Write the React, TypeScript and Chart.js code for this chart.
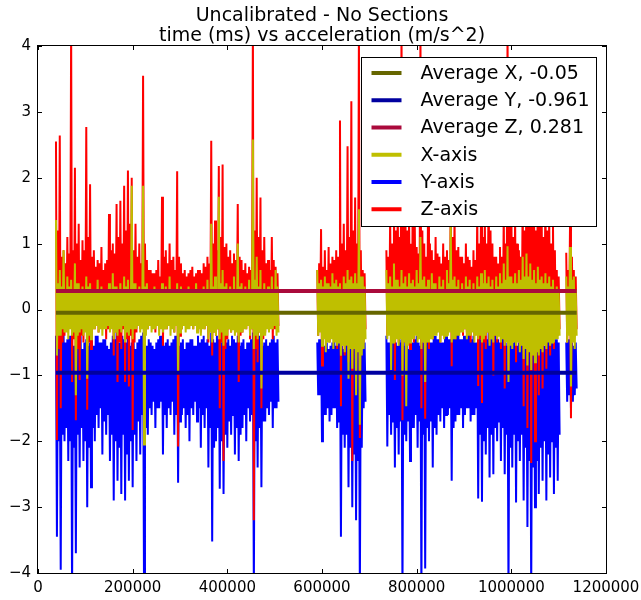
import { useEffect, useRef } from "react";
import { Chart, registerables } from "chart.js";

Chart.register(...registerables);

// Accelerometer log recorded in four bursts. For every 4000 ms interval the
// peak (high) and trough (low) reading of each axis is kept.
const sampleStepMs = 4000;
const segmentStartMs = [38000, 590000, 736000, 1116000];

const xAxisHigh = [
  [1.36,0.4, 0.6,0.35, 0.9,0.3, 0.5,0.35, 0.45,0.3, 0.7,0.4, 0.4,0.3, 0.35,0.25, 0.5,0.35, 0.4,0.3,
   0.3,0.25, 0.45,0.3, 0.35,0.3, 0.3,0.25, 0.4,0.3, 0.55,0.35, 0.35,0.3, 0.4,0.25, 0.5,0.35, 0.45,0.3,
   1.88,0.4, 0.4,0.3, 0.35,0.25, 1.88,0.35, 0.4,0.3, 0.3,0.25, 0.35,0.3, 0.3,0.25, 0.4,0.3, 0.35,0.25,
   0.5,0.3, 0.3,0.25, 0.4,0.3, 0.35,0.3, 0.3,0.25, 0.35,0.3, 0.3,0.25, 0.4,0.3, 0.3,0.25, 0.35,0.3,
   0.45,0.3, 1.3,0.35, 0.5,0.3, 1.71,0.4, 0.6,0.35, 0.4,0.3, 0.35,0.25, 0.5,0.3, 1.0,0.35, 0.4,0.3,
   0.35,0.25, 0.45,0.3, 2.58,0.45, 0.8,0.35, 0.6,0.3, 0.4,0.3, 0.35,0.25, 0.5,0.3, 0.6,0.35],
  [0.6,0.4, 0.45,0.35, 0.5,0.4, 0.4,0.35, 0.55,0.4, 0.45,0.35, 0.4,0.3, 0.5,0.4, 0.6,0.45, 0.5,0.4,
   0.55,0.4, 1.52,0.5, 0.5,0.35],
  [0.6,0.4, 0.5,0.35, 0.7,0.45, 0.45,0.35, 0.6,0.4, 0.5,0.35, 0.55,0.4, 0.45,0.35, 0.6,0.4, 1.1,0.45,
   0.5,0.35, 0.45,0.3, 0.55,0.4, 0.4,0.3, 0.5,0.35, 0.45,0.3, 0.6,0.4, 1.3,0.45, 0.5,0.35, 0.45,0.3,
   0.4,0.3, 0.5,0.35, 0.45,0.3, 0.4,0.3, 0.5,0.35, 0.55,0.4, 0.6,0.4, 0.5,0.35, 0.45,0.3, 0.5,0.35,
   0.55,0.4, 0.7,0.45, 0.96,0.5, 0.5,0.4, 0.55,0.4, 0.6,0.45, 0.8,0.5, 0.85,0.5, 0.7,0.45, 0.6,0.4,
   0.65,0.45, 0.5,0.4, 0.55,0.4, 0.5,0.35, 0.45,0.3, 0.35,0.25],
  [0.5,0.35, 0.95,0.45, 0.5,0.3],
];

const xAxisLow = [
  [-0.7,-0.4, -0.4,-0.3, -0.35,-0.35, -0.45,-0.3, -0.4,-0.35, -1.3,-0.4, -0.35,-0.3, -0.4,-0.35, -1.05,-0.4, -0.45,-0.3,
   -0.3,-0.25, -0.35,-0.3, -0.4,-0.3, -0.3,-0.25, -0.35,-0.3, -0.45,-0.35, -0.4,-0.3, -0.35,-0.25, -0.5,-0.35, -0.4,-0.3,
   -0.45,-0.3, -0.3,-0.25, -0.35,-0.3, -2.05,-0.4, -0.3,-0.25, -0.35,-0.3, -0.3,-0.25, -0.4,-0.3, -0.35,-0.3, -0.3,-0.25,
   -0.4,-0.3, -0.35,-0.25, -0.95,-0.35, -0.3,-0.25, -0.35,-0.3, -0.3,-0.25, -0.3,-0.25, -0.35,-0.3, -0.4,-0.3, -0.3,-0.25,
   -0.45,-0.35, -0.5,-0.35, -0.4,-0.3, -0.45,-0.35, -0.55,-0.4, -0.4,-0.3, -0.35,-0.3, -0.4,-0.35, -0.5,-0.35, -0.35,-0.3,
   -0.3,-0.25, -0.4,-0.3, -0.6,-0.4, -0.45,-0.35, -1.2,-0.4, -0.4,-0.3, -0.35,-0.3, -0.3,-0.25, -0.4,-0.35],
  [-0.4,-0.35, -0.55,-0.45, -0.65,-0.5, -0.5,-0.45, -0.6,-0.5, -0.55,-0.5, -0.7,-0.55, -0.65,-0.55, -1.05,-0.6, -0.9,-0.6,
   -1.3,-0.65, -1.75,-0.7, -0.6,-0.45],
  [-0.45,-0.4, -0.92,-0.5, -0.5,-0.45, -0.55,-0.45, -1.0,-0.5, -1.47,-0.55, -0.5,-0.45, -0.45,-0.4, -0.5,-0.45, -0.6,-0.5,
   -1.1,-0.5, -0.5,-0.45, -0.45,-0.4, -0.4,-0.35, -0.5,-0.4, -0.45,-0.4, -0.4,-0.35, -0.5,-0.45, -0.45,-0.4, -0.4,-0.35,
   -0.35,-0.3, -0.45,-0.4, -0.4,-0.35, -0.5,-0.4, -0.45,-0.4, -0.5,-0.45, -0.4,-0.35, -0.55,-0.45, -0.5,-0.4, -0.45,-0.4,
   -0.5,-0.45, -0.55,-0.5, -1.1,-0.55, -0.6,-0.5, -0.55,-0.5, -0.65,-0.55, -0.75,-0.6, -0.85,-0.65, -0.92,-0.7, -0.8,-0.65,
   -0.7,-0.6, -0.65,-0.55, -0.6,-0.5, -0.55,-0.5, -0.5,-0.45, -0.45,-0.4],
  [-0.5,-0.4, -1.17,-0.5, -0.6,-0.4],
];

const yAxisHigh = [
  [-0.4,-0.5, -0.5,-0.45, -0.35,-0.5, -0.45,-0.4, -0.4,-0.55, -0.55,-0.45, -0.5,-0.4, -0.6,-0.5, -0.45,-0.55, -0.5,-0.45,
   -0.55,-0.4, -0.4,-0.5, -0.5,-0.45, -0.45,-0.55, -0.6,-0.5, -0.4,-0.45, -0.35,-0.5, -0.5,-0.4, -0.45,-0.5, -0.4,-0.55,
   -0.5,-0.45, -0.6,-0.5, -0.45,-0.4, -0.35,-0.5, -0.55,-0.45, -0.5,-0.55, -0.6,-0.5, -0.45,-0.4, -0.4,-0.55, -0.5,-0.45,
   -0.55,-0.5, -0.45,-0.4, -0.4,-0.55, -0.5,-0.45, -0.6,-0.5, -0.5,-0.45, -0.45,-0.55, -0.55,-0.4, -0.5,-0.45, -0.4,-0.5,
   -0.45,-0.55, -0.35,-0.45, -0.5,-0.4, -0.45,-0.5, -0.4,-0.55, -0.5,-0.45, -0.55,-0.4, -0.45,-0.5, -0.4,-0.55, -0.5,-0.45,
   -0.6,-0.5, -0.5,-0.45, -0.35,-0.5, -0.45,-0.4, -0.4,-0.55, -0.5,-0.45, -0.55,-0.5, -0.45,-0.4, -0.5,-0.45],
  [-0.5,-0.45, -0.45,-0.5, -0.55,-0.5, -0.6,-0.55, -0.5,-0.45, -0.55,-0.5, -0.45,-0.55, -0.6,-0.5, -0.5,-0.6, -0.55,-0.5,
   -0.6,-0.55, -0.5,-0.6, -0.55,-0.5],
  [-0.4,-0.5, -0.5,-0.45, -0.45,-0.5, -0.55,-0.45, -0.5,-0.55, -0.45,-0.5, -0.6,-0.5, -0.5,-0.45, -0.4,-0.5, -0.55,-0.45,
   -0.5,-0.45, -0.45,-0.5, -0.5,-0.4, -0.4,-0.45, -0.45,-0.5, -0.5,-0.4, -0.35,-0.45, -0.45,-0.4, -0.4,-0.35, -0.35,-0.45,
   -0.45,-0.4, -0.4,-0.35, -0.35,-0.45, -0.4,-0.5, -0.5,-0.4, -0.45,-0.35, -0.4,-0.45, -0.35,-0.4, -0.45,-0.35, -0.4,-0.45,
   -0.5,-0.4, -0.45,-0.5, -0.55,-0.45, -0.4,-0.5, -0.45,-0.55, -0.5,-0.45, -0.55,-0.6, -0.6,-0.5, -0.55,-0.6, -0.5,-0.55,
   -0.45,-0.5, -0.5,-0.55, -0.55,-0.45, -0.45,-0.5, -0.5,-0.45, -0.45,-0.5],
  [-0.5,-0.45, -0.45,-0.5, -0.55,-0.5],
];

const yAxisLow = [
  [-3.45,-2.0, -3.95,-1.9, -2.0,-1.8, -2.3,-2.0, -4.3,-2.1, -3.7,-1.9, -2.4,-1.8, -2.3,-2.0, -3.0,-2.1, -2.7,-1.8,
   -2.0,-1.6, -1.8,-1.5, -2.2,-1.7, -1.9,-1.6, -2.3,-1.9, -2.9,-2.0, -2.6,-2.1, -2.8,-1.9, -2.9,-2.2, -2.6,-2.0,
   -2.7,-1.9, -2.3,-1.7, -2.2,-1.6, -4.3,-1.8, -1.9,-1.5, -1.6,-1.4, -1.8,-1.5, -1.5,-1.4, -2.2,-1.6, -1.8,-1.5,
   -1.6,-1.4, -1.9,-1.6, -2.63,-1.7, -1.6,-1.5, -1.8,-1.6, -2.0,-1.5, -1.6,-1.4, -1.7,-1.5, -2.1,-1.6, -1.8,-1.5,
   -2.4,-1.8, -3.52,-2.1, -2.0,-1.8, -2.72,-2.0, -2.8,-1.9, -2.1,-1.7, -1.9,-1.6, -2.2,-1.8, -2.3,-1.9, -1.8,-1.6,
   -2.0,-1.5, -1.7,-1.6, -4.3,-2.0, -2.4,-1.8, -2.7,-1.7, -1.7,-1.5, -1.6,-1.4, -1.8,-1.5, -1.5,-1.4],
  [-1.3,-1.3, -2.0,-1.6, -1.6,-1.5, -1.7,-1.6, -1.5,-1.5, -1.8,-1.7, -3.45,-1.9, -2.1,-1.9, -2.7,-2.1, -3.0,-2.2,
   -3.2,-2.3, -4.3,-2.1, -1.5,-1.4],
  [-2.08,-1.6, -1.9,-1.7, -2.4,-1.8, -2.2,-1.7, -4.3,-1.9, -2.0,-1.7, -2.3,-1.8, -1.8,-1.6, -2.1,-1.7, -4.3,-1.9,
   -3.93,-1.8, -2.0,-1.7, -2.4,-1.8, -1.9,-1.6, -1.7,-1.5, -1.8,-1.6, -1.6,-1.5, -2.6,-1.8, -1.7,-1.6, -1.6,-1.5,
   -1.8,-1.6, -1.5,-1.5, -1.7,-1.6, -1.6,-1.5, -2.87,-1.9, -2.92,-2.0, -2.2,-1.8, -2.55,-1.9, -2.5,-1.8, -2.0,-1.7,
   -2.3,-1.8, -2.5,-1.9, -4.3,-2.1, -2.4,-1.9, -2.93,-2.0, -2.3,-1.9, -2.9,-2.1, -3.3,-2.3, -4.3,-2.4, -3.0,-2.3,
   -2.8,-2.1, -2.6,-2.0, -2.9,-2.2, -2.55,-2.0, -2.8,-2.1, -2.6,-1.9],
  [-1.4,-1.3, -1.5,-1.4, -1.3,-1.2],
];

const zAxisHigh = [
  [2.55,1.2, 2.64,0.8, 0.9,0.7, 1.1,0.85, 4.3,0.9, 2.15,1.0, 1.3,0.75, 1.05,0.9, 2.77,1.1, 1.9,0.8,
   0.9,0.65, 0.75,0.7, 0.95,0.6, 0.7,0.75, 1.45,0.9, 1.0,0.85, 1.6,1.1, 1.65,1.0, 1.88,1.2, 2.11,1.3,
   2.0,0.9, 1.3,0.8, 1.0,0.7, 3.55,1.0, 0.75,0.6, 0.6,0.55, 0.55,0.6, 0.75,0.5, 1.71,0.8, 0.9,0.7,
   1.0,0.75, 0.8,0.6, 2.1,0.8, 0.7,0.55, 0.6,0.5, 0.55,0.6, 0.65,0.5, 0.55,0.6, 0.6,0.55, 0.7,0.65,
   0.8,0.7, 2.56,1.0, 1.35,0.9, 2.18,1.1, 2.2,0.95, 1.0,0.8, 0.9,0.7, 0.85,0.75, 1.6,0.8, 0.75,0.6,
   0.7,0.55, 0.65,0.6, 4.3,1.2, 2.0,1.1, 1.7,0.9, 1.1,0.7, 0.75,0.6, 1.1,0.75, 0.65,0.55],
  [0.6,0.7, 1.22,0.65, 0.9,0.6, 0.95,0.7, 0.8,0.75, 0.9,0.8, 2.87,1.0, 1.3,0.9, 2.48,1.1, 3.16,1.2,
   1.7,1.0, 4.3,0.9, 0.6,0.55],
  [0.9,0.8, 1.4,1.0, 2.0,1.2, 1.6,1.1, 4.3,1.3, 1.8,1.2, 1.4,1.0, 2.2,1.3, 0.95,0.85, 4.3,1.2,
   1.0,0.8, 1.5,1.0, 0.9,0.75, 1.1,0.85, 0.8,0.7, 1.0,0.8, 0.9,0.75, 1.8,1.1, 1.4,0.9, 0.95,0.8,
   0.8,0.7, 1.0,0.8, 0.75,0.65, 0.9,0.75, 1.5,1.0, 1.6,1.1, 1.4,1.0, 2.0,1.2, 1.0,0.8, 0.8,0.7,
   0.95,0.8, 1.5,1.0, 4.3,1.3, 1.6,1.1, 1.4,1.0, 0.9,0.8, 1.8,1.2, 2.4,1.4, 2.0,1.3, 1.7,1.2,
   2.2,1.3, 1.6,1.1, 1.9,1.2, 1.4,1.0, 1.3,0.9, 0.6,0.5],
  [0.86,0.6, 1.3,0.8, 0.6,0.5],
];

const zAxisLow = [
  [-1.98,-0.6, -1.5,-0.5, -0.4,-0.3, -0.3,-0.25, -1.1,-0.45, -1.68,-0.6, -1.07,-0.4, -0.5,-0.3, -1.52,-0.5, -0.6,-0.3,
   -0.3,-0.25, -0.35,-0.2, -0.25,-0.25, -0.45,-0.3, -0.3,-0.25, -0.7,-0.35, -1.1,-0.5, -0.6,-0.3, -1.1,-0.45, -1.17,-0.4,
   -1.83,-0.5, -0.35,-0.25, -0.3,-0.2, -0.6,-0.3, -0.3,-0.2, -0.25,-0.25, -0.35,-0.2, -0.3,-0.25, -0.55,-0.3, -0.3,-0.2,
   -0.25,-0.25, -0.35,-0.2, -2.08,-0.4, -0.3,-0.2, -0.25,-0.25, -0.2,-0.2, -0.3,-0.2, -0.25,-0.25, -0.35,-0.2, -0.3,-0.25,
   -0.5,-0.3, -0.7,-0.35, -0.4,-0.3, -1.5,-0.5, -2.3,-0.6, -0.45,-0.3, -0.35,-0.25, -0.3,-0.2, -1.1,-0.4, -0.35,-0.25,
   -0.3,-0.2, -0.45,-0.3, -3.2,-0.6, -0.8,-0.35, -1.5,-0.45, -0.35,-0.25, -0.3,-0.2, -0.45,-0.3, -0.3,-0.25],
  [-0.4,-0.3, -0.85,-0.35, -0.35,-0.25, -0.5,-0.3, -0.4,-0.3, -0.6,-0.35, -1.47,-0.45, -0.7,-0.4, -0.8,-0.45, -2.3,-0.6,
   -1.2,-0.5, -1.95,-0.6, -0.5,-0.3],
  [-0.4,-0.3, -0.5,-0.35, -1.07,-0.4, -0.5,-0.3, -1.68,-0.5, -0.45,-0.3, -0.6,-0.35, -0.5,-0.3, -0.4,-0.3, -1.5,-0.45,
   -1.66,-0.5, -0.6,-0.35, -0.45,-0.3, -0.35,-0.25, -0.5,-0.3, -0.4,-0.3, -0.35,-0.25, -0.86,-0.4, -0.45,-0.3, -0.35,-0.25,
   -0.4,-0.3, -0.35,-0.25, -0.5,-0.3, -0.4,-0.3, -1.16,-0.45, -1.42,-0.5, -0.6,-0.35, -0.5,-0.3, -1.0,-0.4, -0.5,-0.3,
   -0.6,-0.35, -1.2,-0.45, -1.0,-0.4, -0.5,-0.3, -0.8,-0.4, -0.6,-0.35, -1.47,-0.55, -1.8,-0.6, -2.33,-0.7, -2.0,-0.65,
   -1.3,-0.55, -1.2,-0.5, -0.9,-0.45, -0.7,-0.4, -0.6,-0.35, -0.4,-0.3],
  [-0.5,-0.3, -1.65,-0.4, -0.4,-0.3],
];

const averageX = -0.05;
const averageY = -0.961;
const averageZ = 0.281;

const xTicks = [0, 200000, 400000, 600000, 800000, 1000000, 1200000];
const yTicks = [-4, -3, -2, -1, 0, 1, 2, 3, 4];

const titleLines = ["Uncalibrated - No Sections", "time (ms) vs acceleration (m/s^2)"];

const COLORS = {
  avgX: "#666600",
  avgY: "#0000a0",
  avgZ: "#aa0a3c",
  x: "#bfbf00",
  y: "#0000ff",
  z: "#ff0000",
};

const FONT = '"DejaVu Sans", "Liberation Sans", sans-serif';

type Pt = { x: number; y: number | null };

// zig-zag through peak/trough pairs; a null point breaks the line between bursts
function buildTrace(high: number[][], low: number[][]): Pt[] {
  const pts: Pt[] = [];
  high.forEach((seg, s) => {
    let t = segmentStartMs[s];
    seg.forEach((h, i) => {
      t = segmentStartMs[s] + i * sampleStepMs;
      pts.push({ x: t, y: h });
      pts.push({ x: t + sampleStepMs / 2, y: low[s][i] });
    });
    pts.push({ x: t + sampleStepMs, y: null });
  });
  return pts;
}

const lastSeg = zAxisHigh.length - 1;
const traceStart = segmentStartMs[0];
const traceEnd =
  segmentStartMs[lastSeg] + (zAxisHigh[lastSeg].length - 1) * sampleStepMs + sampleStepMs / 2;

function flatLine(v: number): Pt[] {
  return [
    { x: traceStart, y: v },
    { x: traceEnd, y: v },
  ];
}

const legendEntries = [
  { label: `Average X, ${averageX}`, color: COLORS.avgX },
  { label: `Average Y, ${averageY}`, color: COLORS.avgY },
  { label: `Average Z, ${averageZ}`, color: COLORS.avgZ },
  { label: "X-axis", color: COLORS.x },
  { label: "Y-axis", color: COLORS.y },
  { label: "Z-axis", color: COLORS.z },
];

const fmtTick = (v: number) => (v < 0 ? "\u2212" + Math.abs(v) : String(v));

// Frame, inward tick marks, boxed legend and two-line title.
const decorations = {
  id: "decorations",
  afterDatasetsDraw(chart: any) {
    const { ctx, chartArea, scales } = chart;
    const { left, right, top, bottom } = chartArea;
    ctx.save();

    // legend box (upper right, inside the axes)
    const bx = Math.round(right - 245) + 0.5;
    const by = Math.round(top + 11) + 0.5;
    const bw = 235;
    const bh = 169;
    ctx.fillStyle = "#ffffff";
    ctx.fillRect(bx, by, bw, bh);
    ctx.strokeStyle = "#000000";
    ctx.lineWidth = 1;
    ctx.strokeRect(bx, by, bw, bh);
    ctx.font = `19px ${FONT}`;
    ctx.textBaseline = "middle";
    ctx.textAlign = "left";
    legendEntries.forEach((e, r) => {
      const cy = by + 15.5 + r * 27.25;
      ctx.strokeStyle = e.color;
      ctx.lineWidth = 4;
      ctx.beginPath();
      ctx.moveTo(bx + 10, cy);
      ctx.lineTo(bx + 40, cy);
      ctx.stroke();
      ctx.fillStyle = "#000000";
      ctx.fillText(e.label, bx + 59, cy + 1);
    });

    // axes frame
    ctx.strokeStyle = "#000000";
    ctx.lineWidth = 1;
    ctx.strokeRect(left - 0.5, top - 0.5, right - left + 1, bottom - top + 1);

    // inward ticks on all four sides
    const tl = 4;
    ctx.beginPath();
    xTicks.forEach((v) => {
      const px = Math.round(scales.x.getPixelForValue(v)) + 0.5;
      ctx.moveTo(px, bottom);
      ctx.lineTo(px, bottom - tl);
      ctx.moveTo(px, top);
      ctx.lineTo(px, top + tl);
    });
    yTicks.forEach((v) => {
      const py = Math.round(scales.y.getPixelForValue(v)) + 0.5;
      ctx.moveTo(left, py);
      ctx.lineTo(left + tl, py);
      ctx.moveTo(right, py);
      ctx.lineTo(right - tl, py);
    });
    ctx.stroke();

    // title
    ctx.fillStyle = "#000000";
    ctx.font = `19px ${FONT}`;
    ctx.textAlign = "center";
    ctx.textBaseline = "alphabetic";
    const cx = (left + right) / 2;
    ctx.fillText(titleLines[0], cx, 21);
    ctx.fillText(titleLines[1], cx, 41);
    ctx.restore();
  },
};

export default function App() {
  const canvasRef = useRef<HTMLCanvasElement | null>(null);

  useEffect(() => {
    const canvas = canvasRef.current;
    if (!canvas) return;

    const traceStyle = {
      pointRadius: 0,
      pointHoverRadius: 0,
      tension: 0,
      spanGaps: false,
      fill: false,
      borderWidth: 2,
      clip: 0,
    };
    const avgStyle = {
      pointRadius: 0,
      pointHoverRadius: 0,
      tension: 0,
      fill: false,
      borderWidth: 4,
      borderCapStyle: "butt" as const,
      clip: 0,
    };

    // dataset 0 is painted last (on top): averages, then X, Z, Y underneath
    const chart = new Chart(canvas, {
      type: "line",
      data: {
        datasets: [
          { label: legendEntries[0].label, data: flatLine(averageX), borderColor: COLORS.avgX, ...avgStyle },
          { label: legendEntries[1].label, data: flatLine(averageY), borderColor: COLORS.avgY, ...avgStyle },
          { label: legendEntries[2].label, data: flatLine(averageZ), borderColor: COLORS.avgZ, ...avgStyle },
          { label: "X-axis", data: buildTrace(xAxisHigh, xAxisLow), borderColor: COLORS.x, ...traceStyle },
          { label: "Z-axis", data: buildTrace(zAxisHigh, zAxisLow), borderColor: COLORS.z, ...traceStyle },
          { label: "Y-axis", data: buildTrace(yAxisHigh, yAxisLow), borderColor: COLORS.y, ...traceStyle },
        ],
      },
      options: {
        animation: false,
        responsive: false,
        devicePixelRatio: 1,
        parsing: false,
        normalized: true,
        events: [],
        layout: { padding: { left: 0, right: 35, top: 46, bottom: 0 } },
        plugins: {
          legend: { display: false },
          title: { display: false },
          tooltip: { enabled: false },
        },
        scales: {
          x: {
            type: "linear",
            min: 0,
            max: 1200000,
            grid: { display: false, drawTicks: false },
            border: { display: false },
            afterFit: (s: any) => {
              s.height = 27;
              s.paddingLeft = 0;
              s.paddingRight = 0;
            },
            afterBuildTicks: (s: any) => {
              s.ticks = xTicks.map((v) => ({ value: v }));
            },
            ticks: {
              color: "#000000",
              font: { family: FONT, size: 15 },
              padding: 6,
              maxRotation: 0,
              autoSkip: false,
              callback: (v: any) => fmtTick(Number(v)),
            },
          },
          y: {
            type: "linear",
            min: -4,
            max: 4,
            grid: { display: false, drawTicks: false },
            border: { display: false },
            afterFit: (s: any) => {
              s.width = 38;
              s.paddingTop = 0;
              s.paddingBottom = 0;
            },
            afterBuildTicks: (s: any) => {
              s.ticks = yTicks.map((v) => ({ value: v }));
            },
            ticks: {
              color: "#000000",
              font: { family: FONT, size: 15 },
              padding: 7,
              autoSkip: false,
              callback: (v: any) => fmtTick(Number(v)),
            },
          },
        },
      },
      plugins: [decorations],
    });

    return () => chart.destroy();
  }, []);

  return (
    <div style={{ position: "absolute", left: 0, top: 0, width: 641, height: 600, background: "#ffffff" }}>
      <canvas ref={canvasRef} width={641} height={600} style={{ display: "block" }} />
    </div>
  );
}
